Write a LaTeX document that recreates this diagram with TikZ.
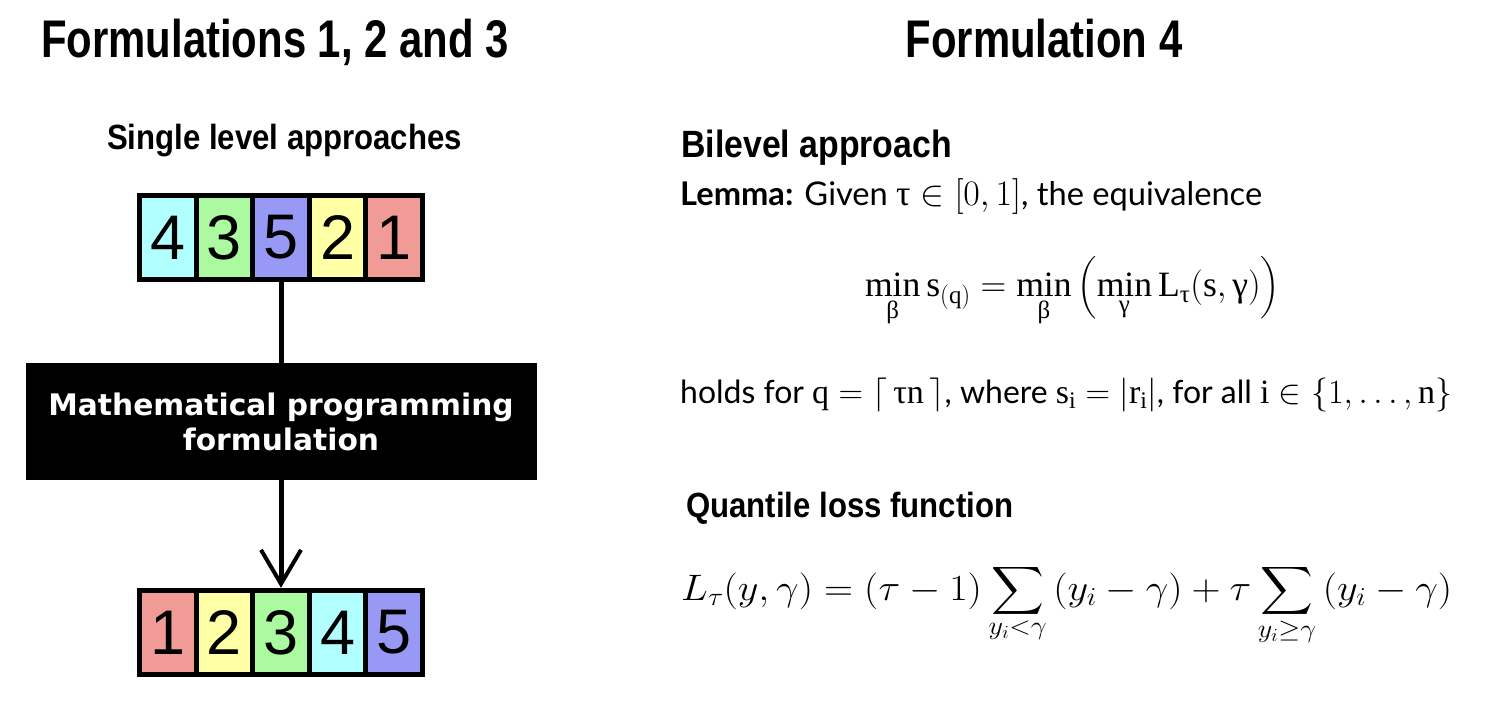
\RequirePackage{fix-cm}
\documentclass[tikz,border=0pt]{standalone}
\usepackage{amsmath}
\usepackage{graphicx}
\usepackage{fontspec}
\setmainfont{Liberation Serif}
\newfontfamily\arialf{Liberation Sans}
\newfontfamily\titlef{Liberation Sans}[FakeStretch=0.79]
\newfontfamily\subf{Liberation Sans}[FakeStretch=0.89]
\newfontfamily\dejavuf{DejaVu Sans}
\newfontfamily\latof{Lato}
\usetikzlibrary{arrows.meta}
\definecolor{ccyan}{RGB}{178,255,255}
\definecolor{cgreen}{RGB}{172,250,160}
\definecolor{cblue}{RGB}{152,152,245}
\definecolor{cyellow}{RGB}{255,255,165}
\definecolor{cred}{RGB}{240,155,150}
\newcommand\gk[1]{\text{\rmfamily #1}}
\newcommand\mA[1]{{\fontsize{33}{36}\selectfont$#1$}}
\newcommand\mB[1]{{\fontsize{33}{40}\selectfont$#1$}}
\newcommand\bigsum{\mathop{\vcenter{\hbox{\scalebox{1.5}{$\displaystyle\sum$}}}}\limits}
\tikzset{
  frame/.style={fill=black, minimum width=288pt, minimum height=89pt, inner sep=0pt},
  cell/.style={fill=#1, minimum width=51.6pt, minimum height=79pt, inner sep=0pt,
    font={\arialf\fontsize{63}{63}\selectfont}},
  title/.style={font={\titlef\bfseries\fontsize{53}{60}\selectfont}, anchor=base, inner sep=0pt},
  subhead/.style={font={\subf\bfseries\fontsize{35}{42}\selectfont}, inner sep=0pt},
  conn/.style={line width=5pt},
}
\begin{document}
\begin{tikzpicture}[x=1pt,y=-1pt]
\useasboundingbox (0,0) rectangle (1498,716);
\fill[white] (0,0) rectangle (1498,716);

% titles
\node[title] (t1) at (275,57) {Formulations 1, 2 and 3};
\node[title] (t2) at (1044,57) {Formulation 4};

% left column
\node[subhead, anchor=base] (sl) at (284.5,149) {Single level approaches};

\node[frame] (top) at (281,237.5) {};
\node[cell=ccyan]   (a1) at (167.8,237.5) {4};
\node[cell=cgreen]  (a2) at (224.4,237.5) {3};
\node[cell=cblue]   (a3) at (281,237.5) {5};
\node[cell=cyellow] (a4) at (337.6,237.5) {2};
\node[cell=cred]    (a5) at (394.2,237.5) {1};

\node[fill=black, minimum width=511pt, minimum height=117pt, inner sep=0pt,
      text=white, align=center,
      font={\dejavuf\bfseries\fontsize{29.7}{35}\selectfont}] (mp) at (281,421.5)
      {Mathematical programming\\formulation};

\node[frame] (bot) at (281,632.5) {};
\node[cell=cred]    (b1) at (167.8,632.5) {1};
\node[cell=cyellow] (b2) at (224.4,632.5) {2};
\node[cell=cgreen]  (b3) at (281,632.5) {3};
\node[cell=ccyan]   (b4) at (337.6,632.5) {4};
\node[cell=cblue]   (b5) at (394.2,632.5) {5};

\draw[conn] (top.south) -- (mp.north);
\draw[conn, -{Straight Barb[length=34pt,width=40pt,line width=4pt]}] (mp.south) -- (bot.north);

% right column
\node[font={\subf\bfseries\fontsize{38}{44}\selectfont}, anchor=base west, inner sep=0pt] (bl) at (681,157) {Bilevel approach};

\node[font={\latof\fontsize{30}{36}\selectfont}, anchor=base west, inner sep=0pt] (lem) at (680,205)
  {\resizebox{582pt}{!}{\textbf{Lemma:} Given \mA{\gk{τ}\in[0,1]}, the equivalence}};

\node[inner sep=0pt, font={\fontsize{34}{40}\selectfont}] (eq) at (1072.5,291.5)
  {\resizebox{415pt}{!}{$\displaystyle \min_{\gk{β}}\mathrm{s}_{(\mathrm{q})} = \min_{\gk{β}}\left(\min_{\gk{γ}}\mathrm{L}_{\gk{τ}}(\mathrm{s},\gk{γ})\right)$}};

\node[font={\latof\fontsize{31}{36}\selectfont}, anchor=base west, inner sep=0pt] (holds) at (680,403)
  {\resizebox{772pt}{!}{holds for \mB{\mathrm{q} = \lceil\,\gk{τ}\mathrm{n}\,\rceil}, where \mB{\mathrm{s}_{\mathrm{i}} = |\mathrm{r}_{\mathrm{i}}|}, for all \mB{\mathrm{i}\in\{1,\ldots,\mathrm{n}\}}}};

\node[subhead, anchor=base west] (ql) at (686,517) {Quantile loss function};

\node[font={\fontsize{41}{48}\selectfont}, anchor=base west, inner sep=0pt] (qf) at (681,600)
  {\resizebox*{771pt}{81pt}{$\displaystyle L_\tau(y,\gamma) = (\tau-1)\bigsum_{y_i<\gamma}\,(y_i-\gamma)+\tau\bigsum_{y_i\geq\gamma}\,(y_i-\gamma)$}};
\end{tikzpicture}
\end{document}
